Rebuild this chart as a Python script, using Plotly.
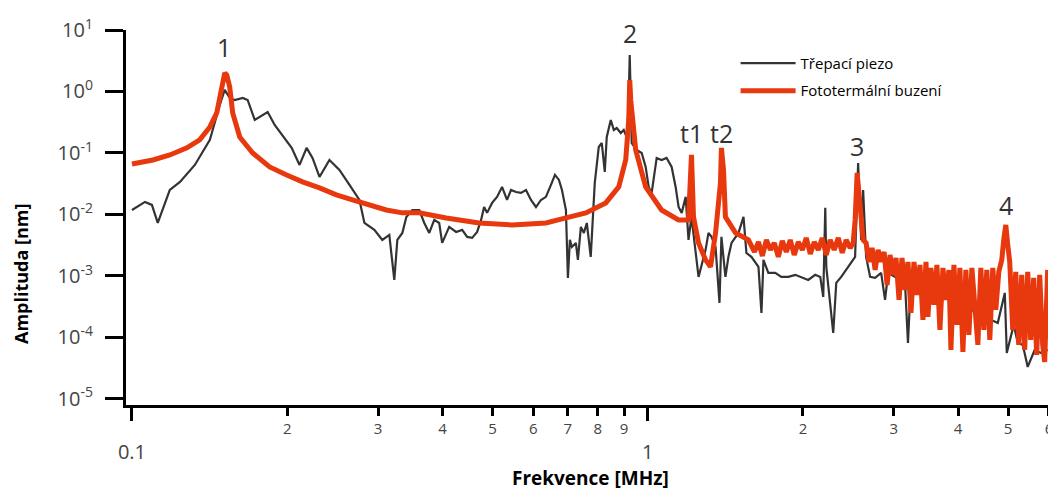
import math
import plotly.graph_objects as go

# ---- data ----
# Třepací piezo (shaker piezo) – frequency [MHz], amplitude [nm]
piezo_freq = [0.100, 0.106, 0.1093, 0.1122, 0.1184, 0.1239, 0.1324, 0.1416, 0.1480, 0.1513,
              0.1547, 0.1582, 0.1640, 0.1676, 0.1730, 0.1792, 0.1833, 0.1891, 0.1977, 0.2040,
              0.2113, 0.2181, 0.2239, 0.2310, 0.2415, 0.2525, 0.2641, 0.2761, 0.2823, 0.2951,
              0.3058, 0.3155, 0.3226, 0.3270, 0.3344, 0.3404, 0.3496, 0.3607, 0.3688, 0.3771,
              0.3856, 0.3942, 0.3995, 0.4067, 0.4122, 0.4252, 0.4368, 0.4467, 0.4567, 0.4670,
              0.4753, 0.4817, 0.4882, 0.4992, 0.5104, 0.5219, 0.5337, 0.5433, 0.5555, 0.5680,
              0.5808, 0.5939, 0.6073, 0.6209, 0.6349, 0.6493, 0.6610, 0.6729, 0.6820, 0.6942,
              0.6973, 0.7003, 0.7066, 0.7129, 0.7257, 0.7323, 0.7421, 0.7521, 0.7621, 0.7755,
              0.7825, 0.7896, 0.8038, 0.8147, 0.8257, 0.8330, 0.8481, 0.8595, 0.8710, 0.8867,
              0.8985, 0.9148, 0.9230, 0.9312, 0.9522, 0.9736, 0.9911, 1.0045, 1.0179, 1.041,
              1.064, 1.088, 1.113, 1.133, 1.148, 1.164, 1.185, 1.200, 1.216, 1.255,
              1.295, 1.312, 1.330, 1.354, 1.378, 1.390, 1.415, 1.434, 1.454, 1.500,
              1.534, 1.554, 1.589, 1.640, 1.662, 1.677, 1.714, 1.768, 1.816, 1.874,
              1.933, 1.986, 2.048, 2.113, 2.161, 2.190, 2.210, 2.220, 2.290, 2.321,
              2.373, 2.448, 2.525, 2.559, 2.594, 2.617, 2.652, 2.700, 2.761, 2.836,
              2.886, 2.926, 3.018, 3.100, 3.155, 3.197, 3.240, 3.343, 3.449, 3.542,
              3.655, 3.770, 3.873, 3.996, 4.123, 4.234, 4.368, 4.507, 4.628, 4.774,
              4.926, 4.970, 5.059, 5.127, 5.219, 5.338, 5.457, 5.630, 5.782, 5.965]
piezo_amp = [0.0118, 0.0160, 0.0143, 0.00727, 0.0250, 0.0338, 0.0638, 0.163, 0.603, 1.06,
             0.784, 0.727, 0.784, 0.727, 0.344, 0.415, 0.464, 0.285, 0.175, 0.121,
             0.0638, 0.121, 0.0829, 0.0407, 0.0769, 0.0529, 0.0302, 0.0172, 0.00727, 0.00560,
             0.00385, 0.00464, 0.000861, 0.00385, 0.00500, 0.00910, 0.0118, 0.0118, 0.00727, 0.00500,
             0.00814, 0.00727, 0.00344, 0.00500, 0.00626, 0.00519, 0.00560, 0.00431, 0.00415, 0.00519,
             0.00814, 0.0132, 0.0106, 0.0154, 0.0193, 0.0280, 0.0172, 0.0250, 0.0232, 0.0224,
             0.0250, 0.0172, 0.0132, 0.0172, 0.0193, 0.0302, 0.0439, 0.0364, 0.0250, 0.0118,
             0.00385, 0.000928, 0.00385, 0.00296, 0.00344, 0.00182, 0.00626, 0.00500, 0.00727, 0.00204,
             0.00814, 0.0325, 0.125, 0.145, 0.0491, 0.182, 0.344, 0.237, 0.255, 0.211,
             0.237, 0.163, 3.92, 0.145, 0.112, 0.100, 0.0592, 0.0280, 0.0224, 0.0829,
             0.0769, 0.0829, 0.0592, 0.0280, 0.0132, 0.0106, 0.0193, 0.00385, 0.00910, 0.000963,
             0.00265, 0.00500, 0.00431, 0.00296, 0.000364, 0.00431, 0.000963, 0.00204, 0.00344, 0.00500,
             0.00910, 0.00237, 0.00204, 0.00140, 0.000250, 0.00182, 0.00112, 0.00112, 0.000963, 0.000963,
             0.00104, 0.000963, 0.000861, 0.00104, 0.000963, 0.000456, 0.0128, 0.00140, 0.000118, 0.000769,
             0.000963, 0.00140, 0.00204, 0.0688, 0.00385, 0.0250, 0.00204, 0.000963, 0.000928, 0.00112,
             0.000407, 0.00112, 0.000963, 0.000861, 0.000769, 0.0000814, 0.000861, 0.000769, 0.000662, 0.000592,
             0.000529, 0.000456, 0.000407, 0.000364, 0.000313, 0.000280, 0.000250, 0.000216, 0.000193, 0.000172,
             0.000529, 0.0000560, 0.000102, 0.000160, 0.0000814, 0.0000755, 0.0000331, 0.0000626, 0.0000560, 0.0000626]

# Fototermální buzení (photothermal excitation)
photo_freq = [0.100, 0.1098, 0.1184, 0.1278, 0.1353, 0.1416, 0.1460, 0.1480, 0.1500, 0.1513,
              0.1527, 0.1547, 0.1568, 0.1618, 0.1714, 0.1849, 0.1995, 0.2142, 0.2310, 0.2491,
              0.2677, 0.2886, 0.3113, 0.3344, 0.3607, 0.4067, 0.4711, 0.5456, 0.6349, 0.6942,
              0.7588, 0.8293, 0.8788, 0.9066, 0.9189, 0.9230, 0.9271, 0.9480, 0.9911, 1.064,
              1.148, 1.200, 1.216, 1.227, 1.255, 1.295, 1.324, 1.354, 1.384, 1.390,
              1.403, 1.415, 1.480, 1.568,
              1.611, 1.640, 1.669, 1.699, 1.730, 1.760, 1.792, 1.824, 1.857, 1.890,
              1.924, 1.959, 1.995, 2.030, 2.067, 2.104, 2.142, 2.180, 2.220, 2.259,
              2.300, 2.342, 2.384, 2.426, 2.470, 2.503,
              2.525, 2.548, 2.582, 2.617,
              2.652, 2.688, 2.724, 2.761, 2.798, 2.836, 2.874, 2.913, 2.951, 2.991,
              3.031, 3.072, 3.113, 3.155, 3.197, 3.240, 3.284, 3.328, 3.373, 3.418,
              3.465, 3.495, 3.542, 3.590, 3.638, 3.687, 3.737, 3.787, 3.838, 3.873,
              3.925, 3.978, 4.031, 4.086, 4.140, 4.196, 4.253, 4.309, 4.368, 4.426,
              4.486, 4.546, 4.607, 4.669, 4.732, 4.796, 4.860, 4.903, 4.948, 4.992,
              5.036, 5.104, 5.173, 5.243, 5.313, 5.384, 5.457, 5.530, 5.604, 5.680,
              5.757, 5.834, 5.886, 5.965]
photo_amp = [0.0662, 0.0769, 0.0928, 0.121, 0.163, 0.265, 0.447, 0.814, 1.54, 2.00,
             1.85, 1.18, 0.447, 0.182, 0.100, 0.0592, 0.0439, 0.0338, 0.0270, 0.0208,
             0.0172, 0.0143, 0.0118, 0.0106, 0.0106, 0.00877, 0.00727, 0.00675, 0.00727, 0.00877,
             0.0106, 0.0154, 0.0280, 0.0769, 0.344, 1.54, 0.727, 0.112, 0.0280, 0.0118,
             0.00814, 0.00814, 0.0928, 0.00910, 0.00344, 0.00182, 0.00140, 0.00500, 0.0325, 0.121,
             0.0529, 0.00910, 0.00500, 0.00385,
             0.00246, 0.00357, 0.00211, 0.00385, 0.00265, 0.00344, 0.00204, 0.00371, 0.00246, 0.00385,
             0.00219, 0.00357, 0.00265, 0.00415, 0.00228, 0.00357, 0.00265, 0.00415, 0.00219, 0.00385,
             0.00265, 0.00415, 0.00237, 0.00385, 0.00285, 0.00344,
             0.00814, 0.0473, 0.00981, 0.00385,
             0.00344, 0.00169, 0.00285, 0.00125, 0.00265, 0.00169, 0.00246, 0.000714, 0.00219, 0.00104,
             0.00196, 0.000407, 0.00196, 0.000592, 0.00169, 0.000250, 0.00169, 0.000491, 0.00151, 0.000193,
             0.00169, 0.000216, 0.00135, 0.000338, 0.00151, 0.000132, 0.00135, 0.000407, 0.00125, 0.0000626,
             0.00151, 0.000160, 0.00135, 0.0000581, 0.00125, 0.000110, 0.00135, 0.000280, 0.0000755, 0.00135,
             0.000132, 0.00125, 0.0000911, 0.00135, 0.000280, 0.00116, 0.00182, 0.00385, 0.00675, 0.00319,
             0.00169, 0.000132, 0.00116, 0.0000755, 0.00104, 0.0000626, 0.00116, 0.0000911, 0.000928, 0.0000519,
             0.00104, 0.0000755, 0.0000400, 0.00125]

x_minor_ticks = [0.2, 0.3, 0.4, 0.5, 0.6, 0.7, 0.8, 0.9, 2, 3, 4, 5, 6]
x_minor_text = ["2", "3", "4", "5", "6", "7", "8", "9", "2", "3", "4", "5", "6"]
x_major_ticks = [0.1, 1]
x_major_text = ["0.1", "1"]
y_ticks = [1e-5, 1e-4, 1e-3, 1e-2, 1e-1, 1e0, 1e1]
y_text = ["10<sup>-5</sup>", "10<sup>-4</sup>", "10<sup>-3</sup>", "10<sup>-2</sup>",
          "10<sup>-1</sup>", "10<sup>0</sup>", "10<sup>1</sup>"]

peak_names = ["1", "2", "t1", "t2", "3", "4"]
peak_freq = [0.151, 0.923, 1.216, 1.39, 2.55, 4.95]
peak_label_amp = [5.3, 8.9, 0.21, 0.21, 0.13, 0.0143]

assert len(piezo_freq) == len(piezo_amp)
assert len(photo_freq) == len(photo_amp)

BLACK = "#333333"
RED = "#E8380D"
FONT = "Open Sans"
XRANGE = [-1.0116, 0.7821]
YRANGE = [-5.1, 1.0]

fig = go.Figure()
fig.add_trace(go.Scatter(x=piezo_freq, y=piezo_amp, mode="lines", name="Třepací piezo",
                         legendgroup="a", line=dict(color=BLACK, width=2.2)))
fig.add_trace(go.Scatter(x=photo_freq, y=photo_amp, mode="lines", name="Fototermální buzení",
                         legendgroup="b", line=dict(color=RED, width=5)))

for name, f, a in zip(peak_names, peak_freq, peak_label_amp):
    fig.add_annotation(x=math.log10(f), y=math.log10(a), xref="x", yref="y", text=name,
                       showarrow=False, font=dict(family=FONT, size=25, color=BLACK),
                       xanchor="center", yanchor="middle")

fig.add_annotation(text="<b>Amplituda [nm]</b>", xref="paper", yref="paper",
                   x=-0.1143, y=0.35, textangle=-90, showarrow=False,
                   font=dict(family=FONT, size=18, color="black"),
                   xanchor="center", yanchor="middle")
fig.add_annotation(text="<b>Frekvence [MHz]</b>", xref="paper", yref="paper",
                   x=0.502, y=-0.195, showarrow=False,
                   font=dict(family=FONT, size=19, color="black"),
                   xanchor="center", yanchor="middle")

fig.update_layout(
    width=1048, height=484,
    margin=dict(l=118, r=3, t=22, b=87),
    plot_bgcolor="white", paper_bgcolor="white",
    font=dict(family=FONT, color=BLACK),
    showlegend=True,
    legend=dict(x=0.659, y=0.955, xanchor="left", yanchor="top",
                font=dict(family=FONT, size=15, color="black"),
                bgcolor="rgba(0,0,0,0)", traceorder="grouped", tracegroupgap=5,
                itemwidth=55),
    xaxis=dict(type="log", range=XRANGE, showgrid=False, zeroline=False,
               showline=True, linecolor="black", linewidth=3,
               tickmode="array", tickvals=x_minor_ticks, ticktext=x_minor_text,
               ticks="outside", ticklen=8, tickwidth=2.5, tickcolor="black",
               tickfont=dict(family=FONT, size=15, color="#444444"),
               ticklabelstandoff=0, ticklabeloverflow="allow"),
    xaxis2=dict(type="log", range=XRANGE, overlaying="x", anchor="y", side="bottom",
                showgrid=False, zeroline=False, showline=False,
                tickmode="array", tickvals=x_major_ticks, ticktext=x_major_text,
                ticks="outside", ticklen=15, tickwidth=2.5, tickcolor="black",
                tickfont=dict(family=FONT, size=20, color="#444444"),
                ticklabelstandoff=14),
    yaxis=dict(type="log", range=YRANGE, showgrid=False, zeroline=False,
               showline=True, linecolor="black", linewidth=3,
               tickmode="array", tickvals=y_ticks, ticktext=y_text,
               ticks="outside", ticklen=18, tickwidth=2.5, tickcolor="black",
               tickfont=dict(family=FONT, size=20, color="#444444"),
               ticklabelstandoff=8),
)
# invisible trace to activate the second x axis
fig.add_trace(go.Scatter(x=[0.1], y=[None], xaxis="x2", showlegend=False,
                         hoverinfo="skip", mode="lines"))

fig.write_html("out.html")
